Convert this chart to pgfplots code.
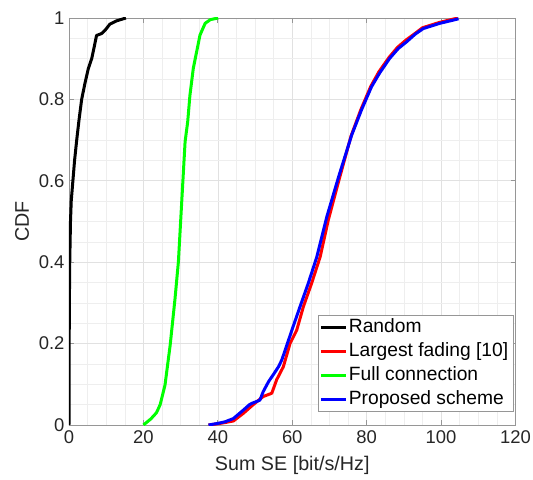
\documentclass[border=0pt]{standalone}
\usepackage{pgfplots}
\pgfplotsset{compat=1.18}
\usepackage{fontspec}
\setmainfont{Liberation Sans}
\definecolor{axgray}{RGB}{150,150,150}
\definecolor{txtgray}{RGB}{38,38,38}
\definecolor{grmaj}{RGB}{225,225,225}
\definecolor{grmin}{RGB}{238,238,238}
\begin{document}
\begin{tikzpicture}
\useasboundingbox (-69bp,-55bp) rectangle (464bp,425bp);
\begin{axis}[
  at={(0,0)}, anchor=origin,
  scale only axis, width=446.5bp, height=407bp,
  xmin=0, xmax=120, ymin=0, ymax=1,
  xtick={0,20,...,120}, ytick={0,0.2,...,1},
  yticklabels={0,0.2,0.4,0.6,0.8,1},
  minor x tick num=3, minor y tick num=3,
  grid=both,
  major grid style={line width=0.6bp, draw=grmaj},
  minor grid style={line width=0.6bp, draw=grmin},
  tick align=inside, major tick length=5bp, minor tick length=0pt,
  tick style={axgray, line width=0.7bp},
  axis line style={axgray, line width=0.8bp},
  /pgf/number format/assume math mode=true,
  tick label style={font=\fontsize{18.5}{20}\selectfont, text=txtgray},
  xticklabel style={yshift=-2.5bp},
  yticklabel style={xshift=-1bp},
  label style={font=\fontsize{19.8}{22}\selectfont, text=txtgray},
  xlabel={Sum SE [bit/s/Hz]},
  ylabel={CDF},
  xlabel style={at={(axis description cs:0.5,0)}, anchor=center, yshift=-40bp},
  ylabel style={at={(axis description cs:-0.105,0.5)}, anchor=center},
  legend cell align=left,
  legend style={at={(axis description cs:1,0)}, anchor=south east, xshift=-1.5bp, yshift=13bp,
    draw=axgray, line width=0.7bp, fill=white,
    font=\fontsize{19.3}{24}\selectfont, text=black,
    inner sep=1bp, row sep=1.5bp,
    nodes={inner sep=1.5bp, text height=15bp, text depth=4.5bp}},
  legend image code/.code={\draw[#1, line width=3bp] (0bp,0bp) -- (25bp,0bp);},
  every axis plot/.append style={line width=3bp, line join=round},
]
\addplot[black] coordinates {
(0,0) (0.02,0.1) (0.05,0.2) (0.1,0.3) (0.2,0.4) (0.4,0.5) (0.6,0.55) (1.0,0.595)
(1.5,0.65) (2.07,0.70) (2.7,0.75) (3.4,0.80) (4.3,0.84) (5.2,0.876) (6.1,0.9)
(6.8,0.93) (7.4,0.957) (8.8,0.962) (9.7,0.97) (11.0,0.985) (12.8,0.993) (15.3,1.0)
};
\addlegendentry{Random}
\addplot[red] coordinates {
(37.5,0) (40,0.003) (42,0.006) (44.2,0.01) (46.9,0.029) (49.5,0.05) (52.2,0.07)
(54.5,0.078) (55.8,0.111) (57.6,0.143) (59.4,0.2) (61.2,0.233) (63.0,0.291)
(65.2,0.348) (67.5,0.413) (69.7,0.504) (72.5,0.6) (75.8,0.71) (78.4,0.774)
(81.1,0.832) (83.3,0.868) (86,0.903) (88.3,0.928) (90.6,0.946) (93,0.962)
(95,0.976) (99.5,0.989) (104.5,1.0)
};
\addlegendentry{Largest fading [10]\hspace*{3bp}}
\addplot[green] coordinates {
(20.0,0) (22,0.015) (23.5,0.03) (24.5,0.05) (25.8,0.098) (27.2,0.197) (28.5,0.311)
(29.4,0.401) (30.3,0.549) (31.2,0.696) (31.9,0.745) (32.5,0.81) (33.4,0.876)
(34.3,0.917) (35.2,0.958) (36.6,0.987) (38,0.996) (40.1,1.0)
};
\addlegendentry{Full connection}
\addplot[blue] coordinates {
(37.5,0) (40,0.004) (42,0.008) (44.2,0.016) (46,0.03) (46.9,0.037) (48.5,0.05)
(49.1,0.053) (51.3,0.061) (52.2,0.082) (53.6,0.106) (55,0.125) (56.3,0.143)
(57.2,0.16) (58.1,0.184) (59.9,0.233) (62.1,0.291) (64.3,0.348) (66.6,0.413)
(69.3,0.512) (72.6,0.614) (76.0,0.713) (78.6,0.774) (81.3,0.831) (83.5,0.865)
(86.2,0.901) (88.5,0.925) (90.8,0.942) (93,0.96) (95.2,0.974) (99.7,0.987)
(102,0.992) (104.7,0.998)
};
\addlegendentry{Proposed scheme}
\end{axis}
\end{tikzpicture}
\end{document}
